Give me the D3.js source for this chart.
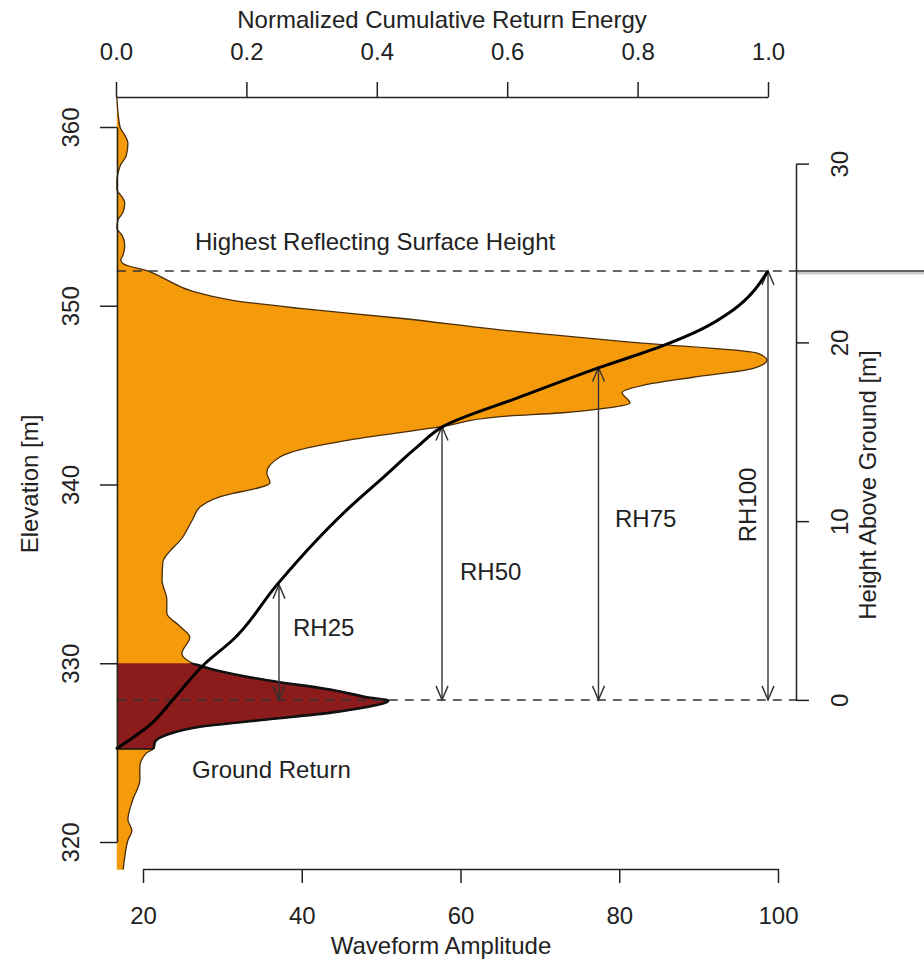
<!DOCTYPE html>
<html>
<head>
<meta charset="utf-8">
<script src="https://d3js.org/d3.v7.min.js"></script>
<style>
  body { margin: 0; background: #fff; }
  svg text { font-family: "Liberation Sans", Arial, sans-serif; fill: #222; }
</style>
</head>
<body>
<svg id="chart" width="924" height="968"></svg>
<script>
// waveform: [elevation m, amplitude]
const waveform = [
  [361.7,16.7],[360.0,17.1],[359.55,17.7],[359.1,18.1],[358.4,17.9],[357.9,17.2],[357.5,16.9],
  [357.0,16.7],[356.5,16.7],[356.1,17.35],[355.75,17.7],[355.25,17.5],[354.8,16.85],[354.35,16.7],
  [353.95,17.35],[353.4,17.7],[352.85,17.5],[352.55,17.2],[352.35,17.5],[351.9,20.9],[351.45,23.0],
  [350.8,26.3],[350.3,31.3],[349.85,39.8],[349.3,52.4],[348.65,65.0],[347.95,81.7],[347.35,97.4],
  [346.95,98.6],[346.5,96.9],[346.0,89.3],[345.55,83.0],[345.15,80.35],[344.55,81.35],[344.3,78.8],
  [344.0,72.5],[343.8,65.0],[343.25,57.8],[342.5,46.1],[341.95,39.8],[341.55,37.3],[340.65,35.6],
  [340.1,36.0],[339.7,33.5],[339.5,31.3],[338.75,27.2],[338.0,26.2],[337.05,25.0],[335.65,22.5],
  [334.65,22.4],[333.55,23.0],[332.8,23.0],[332.05,24.7],[331.45,25.9],[330.55,24.9],[330.2,25.5],
  [330.0,26.3],[329.6,29.3],[329.05,35.6],[328.5,43.9],[328.1,48.2],[327.9,50.9],[327.55,48.2],
  [327.25,43.9],[326.85,35.6],[326.45,27.2],[326.0,23.0],[325.6,21.5],[325.2,21.3],[325.0,20.5],
  [324.2,19.6],[323.45,19.6],[322.35,18.7],[321.25,18.1],[320.65,18.6],[320.1,18.1],[319.15,17.7],
  [318.45,17.5]
];
const baseAmp = 16.7;

// cumulative return energy: [elevation m, normalized energy]
const energy = [
  [325.2,0.0],[326.55,0.052],[327.95,0.087],[330.0,0.137],[331.3,0.179],[334.4,0.247],
  [336.9,0.308],[338.75,0.359],[340.4,0.410],[342.1,0.462],[343.25,0.502],[344.9,0.620],
  [346.55,0.742],[347.7,0.834],[348.65,0.896],[349.75,0.946],[351.95,1.0]
];

const groundElev = 327.95;
const groundReturn = [325.2, 330.0];
const highestHeight = 24.0;

// relative height markers
const rhNames = ["RH25", "RH50", "RH75", "RH100"];
const rhEnergy = [0.25, 0.50, 0.74, 1.0];
const rhHeight = [6.45, 15.3, 18.6, 24.0];

const elevTicks = [320, 330, 340, 350, 360];
const ampTicks = [20, 40, 60, 80, 100];
const energyTicks = [0, 0.2, 0.4, 0.6, 0.8, 1.0];
const heightTicks = [0, 10, 20, 30];

const svg = d3.select("#chart");
svg.append("rect").attr("width", 924).attr("height", 968).attr("fill", "#fff");

const yElev = d3.scaleLinear().domain([320, 360]).range([842, 127]);
const xAmp = d3.scaleLinear().domain([20, 100]).range([143, 778]);
const xEnergy = d3.scaleLinear().domain([0, 1]).range([116, 768]);
const yHeight = d3.scaleLinear().domain([0, 30]).range([yElev(groundElev), yElev(groundElev + 30)]);
const rightX = 796;

// clip for the ground return part
svg.append("clipPath").attr("id", "groundClip")
  .append("rect")
  .attr("x", 0).attr("width", 924)
  .attr("y", yElev(groundReturn[1]))
  .attr("height", yElev(groundReturn[0]) - yElev(groundReturn[1]));

const area = d3.area()
  .y(d => yElev(d[0]))
  .x0(xAmp(baseAmp))
  .x1(d => xAmp(d[1]))
  .curve(d3.curveMonotoneY);

const outline = d3.line()
  .x(d => xAmp(d[1]))
  .y(d => yElev(d[0]))
  .curve(d3.curveMonotoneY);

svg.append("path").datum(waveform).attr("d", area).attr("fill", "#f59a0a");
svg.append("path").datum(waveform).attr("d", area).attr("fill", "#8c1c1c")
  .attr("clip-path", "url(#groundClip)");
svg.append("path").datum(waveform).attr("d", outline)
  .attr("fill", "none").attr("stroke", "#4a2c05").attr("stroke-width", 1.3);
svg.append("path").datum(waveform).attr("d", outline)
  .attr("fill", "none").attr("stroke", "#111").attr("stroke-width", 2.6)
  .attr("clip-path", "url(#groundClip)");
svg.append("line")
  .attr("x1", xAmp(baseAmp)).attr("x2", xAmp(21.3))
  .attr("y1", yElev(groundReturn[0])).attr("y2", yElev(groundReturn[0]))
  .attr("stroke", "#111").attr("stroke-width", 1.5);

// dashed reference lines
[groundElev, groundElev + highestHeight].forEach(e => {
  svg.append("line")
    .attr("x1", xAmp(baseAmp)).attr("x2", rightX)
    .attr("y1", yElev(e)).attr("y2", yElev(e))
    .attr("stroke", "#333").attr("stroke-width", 1.5)
    .attr("stroke-dasharray", "9,7");
});
// solid line leaving the plot on the right
let yTop = yElev(groundElev + highestHeight);
svg.append("line").attr("x1", rightX).attr("x2", 924).attr("y1", yTop + 2).attr("y2", yTop + 2)
  .attr("stroke", "#ccc").attr("stroke-width", 3);
svg.append("line").attr("x1", rightX).attr("x2", 924).attr("y1", yTop).attr("y2", yTop)
  .attr("stroke", "#333").attr("stroke-width", 1.5);

// double headed arrows
function arrowHead(x, y, dir) {
  let len = 14, spread = 6;
  svg.append("path")
    .attr("d", `M${x - spread},${y + dir * len}L${x},${y}L${x + spread},${y + dir * len}`)
    .attr("fill", "none").attr("stroke", "#333").attr("stroke-width", 1.4);
}
rhNames.forEach((name, i) => {
  let x = xEnergy(rhEnergy[i]);
  let y0 = yHeight(0), y1 = yHeight(rhHeight[i]);
  svg.append("line").attr("x1", x).attr("x2", x).attr("y1", y0).attr("y2", y1)
    .attr("stroke", "#333").attr("stroke-width", 1.4);
  arrowHead(x, y1, 1);
  arrowHead(x, y0, -1);
});

// cumulative energy curve
const energyLine = d3.line()
  .x(d => xEnergy(d[1]))
  .y(d => yElev(d[0]))
  .curve(d3.curveMonotoneY);
svg.append("path").datum(energy).attr("d", energyLine)
  .attr("fill", "none").attr("stroke", "#000").attr("stroke-width", 3);

// axes
function styleAxis(g) {
  g.select(".domain").attr("stroke", "#222").attr("stroke-width", 1.5);
  g.selectAll(".tick line").attr("stroke", "#222").attr("stroke-width", 1.5);
  g.selectAll(".tick text").style("font-size", "24px").attr("fill", "#222")
    .style("font-family", "\"Liberation Sans\", Arial, sans-serif");
}

let gTop = svg.append("g").attr("transform", "translate(0,97)")
  .call(d3.axisTop(xEnergy).tickValues(energyTicks).tickSize(15).tickSizeOuter(0).tickFormat(d3.format(".1f")));
styleAxis(gTop);
gTop.selectAll(".tick text").attr("y", -45).attr("dy", "0.35em");

let gLeft = svg.append("g").attr("transform", "translate(117,0)")
  .call(d3.axisLeft(yElev).tickValues(elevTicks).tickSize(17).tickSizeOuter(0));
styleAxis(gLeft);
gLeft.selectAll(".tick text").attr("x", null).attr("dy", "0.35em")
  .attr("text-anchor", "middle").attr("transform", "translate(-46,0) rotate(-90)");

let gBottom = svg.append("g").attr("transform", "translate(0,869)")
  .call(d3.axisBottom(xAmp).tickValues(ampTicks).tickSize(14).tickSizeOuter(0));
styleAxis(gBottom);
gBottom.selectAll(".tick text").attr("y", 47).attr("dy", "0.35em");

let gRight = svg.append("g").attr("transform", `translate(${rightX},0)`)
  .call(d3.axisRight(yHeight).tickValues(heightTicks).tickSize(13).tickSizeOuter(0));
styleAxis(gRight);
gRight.selectAll(".tick text").attr("x", null).attr("dy", "0.35em")
  .attr("text-anchor", "middle").attr("transform", "translate(44,0) rotate(-90)");

// titles and annotations
function label(txt, x, y, anchor, rot) {
  let t = svg.append("text").text(txt)
    .attr("text-anchor", anchor).attr("dy", "0.35em")
    .style("font-size", "24px");
  if (rot) t.attr("transform", `translate(${x},${y}) rotate(-90)`);
  else t.attr("x", x).attr("y", y);
}
label("Normalized Cumulative Return Energy", 442, 20, "middle");
label("Waveform Amplitude", 441, 946, "middle");
label("Elevation [m]", 30, 484, "middle", true);
label("Height Above Ground [m]", 868, 485, "middle", true);
label("Highest Reflecting Surface Height", 195, 242, "start");
label("Ground Return", 192, 770, "start");
label("RH25", 293, 628, "start");
label("RH50", 460, 572, "start");
label("RH75", 615, 519, "start");
label("RH100", 748, 505, "middle", true);
</script>
</body>
</html>
